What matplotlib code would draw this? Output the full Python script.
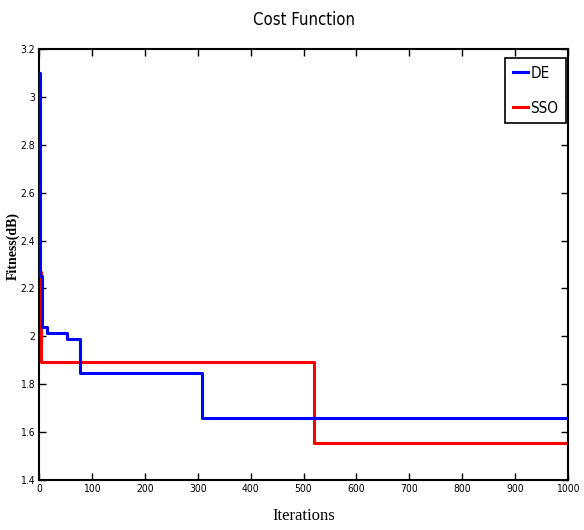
import matplotlib
matplotlib.use("Agg")
import matplotlib.pyplot as plt
from matplotlib import font_manager
from matplotlib.ticker import FuncFormatter

# step data (iteration where each level starts)
de_iters = [0, 1, 5, 16, 52, 78, 309, 1000]
de_fitness = [3.10, 2.25, 2.04, 2.013, 1.987, 1.845, 1.661, 1.661]

sso_iters = [0, 4, 520, 1000]
sso_fitness = [2.27, 1.892, 1.555, 1.555]

x_ticks = list(range(0, 1001, 100))
y_ticks = [1.4, 1.6, 1.8, 2.0, 2.2, 2.4, 2.6, 2.8, 3.0, 3.2]

installed = {f.name for f in font_manager.fontManager.ttflist}
narrow_name = next((n for n in ["Liberation Sans Narrow", "DejaVu Sans Condensed"] if n in installed), "DejaVu Sans")
narrow = font_manager.FontProperties(family=narrow_name, stretch="condensed")
serif = ["Liberation Serif", "DejaVu Serif"]

fig = plt.figure(figsize=(5.84, 5.30), dpi=100)
ax = fig.add_axes([0.0668, 0.0943, 0.9058, 0.8132])

ax.step(sso_iters, sso_fitness, where="post", color="red", linewidth=2.2, label="SSO", zorder=2)
ax.step(de_iters, de_fitness, where="post", color="blue", linewidth=2.2, label="DE", zorder=3)

ax.set_xlim(0, 1000)
ax.set_ylim(1.4, 3.2)
ax.set_xticks(x_ticks)
ax.set_yticks(y_ticks)
ax.yaxis.set_major_formatter(FuncFormatter(lambda v, p: f"{v:g}"))
ax.tick_params(direction="in", top=True, right=True, length=5, width=1, pad=3)
for lbl in ax.get_xticklabels() + ax.get_yticklabels():
    lbl.set_fontproperties(narrow)
    lbl.set_fontsize(7.5)
for spine in ax.spines.values():
    spine.set_linewidth(1.5)

title_font = narrow.copy()
title_font.set_size(12)
ax.set_title("Cost Function", fontproperties=title_font, pad=17)
ax.set_xlabel("Iterations", fontsize=12, family=serif)
ax.xaxis.set_label_coords(0.5, -0.066)
ax.set_ylabel("Fitness(dB)", fontsize=10, family=serif, fontweight="bold")
ax.yaxis.set_label_coords(-0.037, 0.543)

handles, labels = ax.get_legend_handles_labels()
leg_font = narrow.copy()
leg_font.set_size(11)
leg = ax.legend(handles[::-1], labels[::-1], loc="upper right", prop=leg_font,
                bbox_to_anchor=(0.996, 0.979), borderaxespad=0,
                fancybox=False, framealpha=1, edgecolor="black", handlelength=1.0,
                handletextpad=0.15, borderpad=0.5, labelspacing=1.3)
leg.get_frame().set_linewidth(1.2)

fig.savefig("out.png", dpi=100)
